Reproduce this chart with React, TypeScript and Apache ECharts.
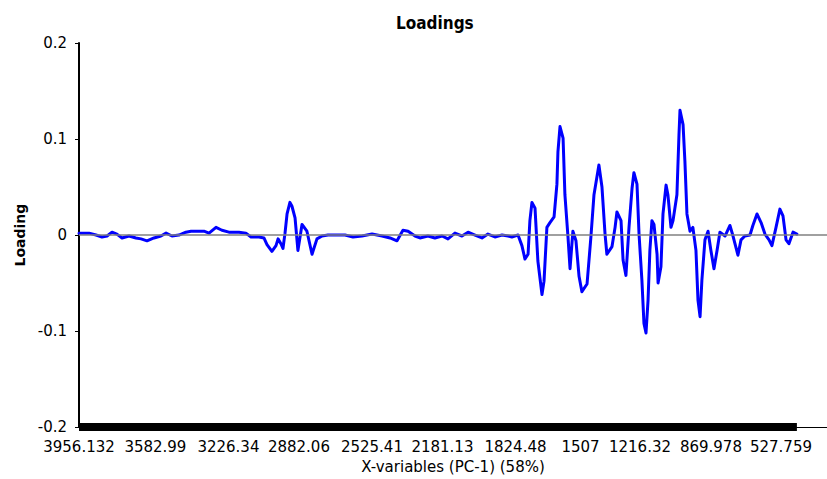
import React, { useEffect, useRef } from "react";
import * as echarts from "echarts";

// Wavenumbers (cm-1) of the sampled points of the PC-1 loading curve
const WAVENUMBERS: number[] = [
  3956.132, 3907, 3873, 3844, 3819, 3795, 3771, 3746, 3712, 3678, 3653, 3624, 3590, 3556, 3531, 3502,
  3468, 3434, 3409, 3380, 3346, 3321, 3287, 3258, 3224, 3175, 3141, 3116, 3077, 3053, 3038, 3014,
  2994, 2984, 2970, 2960, 2950, 2940, 2926, 2916, 2901, 2887, 2867, 2843, 2818, 2794, 2769, 2740,
  2657, 2618, 2574, 2525, 2476, 2437, 2403, 2374, 2349, 2315, 2291, 2252, 2218, 2183, 2154, 2120,
  2086, 2056, 2022, 1988, 1959, 1925, 1890, 1861, 1842, 1812, 1793, 1778, 1763, 1754, 1744, 1729,
  1715, 1695, 1685, 1671, 1656, 1636, 1622, 1617, 1607, 1592, 1583, 1568, 1558, 1544, 1529, 1514,
  1500, 1475, 1456, 1441, 1417, 1402, 1387, 1378, 1353, 1338, 1329, 1309, 1299, 1285, 1270, 1255,
  1246, 1231, 1221, 1207, 1197, 1187, 1177, 1168, 1158, 1148, 1133, 1128, 1114, 1104, 1089, 1080,
  1065, 1055, 1036, 1026, 1021, 1006, 997, 987, 972, 958, 943, 933, 923, 914, 899, 884,
  870, 855, 840, 826, 801, 777, 762, 738, 723, 704, 679, 665, 645, 625, 606, 586,
  572, 552, 533, 518, 503, 489, 469, 450,
];

// PC-1 loading values at those wavenumbers
const LOADINGS: number[] = [
  0.002, 0.002, 0.0, -0.002, -0.001, 0.003, 0.001, -0.003, -0.001, -0.003, -0.004, -0.006, -0.003, -0.001, 0.002, -0.001,
  0.0, 0.003, 0.004, 0.004, 0.004, 0.002, 0.008, 0.005, 0.003, 0.003, 0.002, -0.002, -0.002, -0.003, -0.01, -0.017,
  -0.011, -0.004, -0.009, -0.014, 0.002, 0.022, 0.034, 0.03, 0.018, -0.016, 0.011, 0.004, -0.02, -0.004, -0.001, 0.0,
  0.0, -0.002, -0.001, 0.001, -0.001, -0.003, -0.006, 0.005, 0.004, -0.001, -0.003, -0.001, -0.003, -0.001, -0.004, 0.002,
  -0.001, 0.003, 0.0, -0.003, 0.001, -0.002, 0.0, -0.001, -0.002, 0.0, -0.011, -0.025, -0.02, 0.015, 0.034, 0.028,
  -0.027, -0.062, -0.048, 0.008, 0.013, 0.019, 0.053, 0.087, 0.113, 0.101, 0.042, -0.002, -0.035, 0.004, -0.006, -0.043,
  -0.059, -0.051, -0.002, 0.042, 0.073, 0.05, 0.001, -0.02, -0.012, 0.008, 0.024, 0.015, -0.026, -0.042, 0.008, 0.049,
  0.065, 0.053, 0.001, -0.047, -0.092, -0.102, -0.068, -0.016, 0.015, 0.011, -0.02, -0.05, -0.033, 0.022, 0.052, 0.042,
  0.008, 0.015, 0.042, 0.104, 0.13, 0.115, 0.077, 0.022, 0.004, 0.008, -0.016, -0.068, -0.085, -0.047, -0.005, 0.004,
  -0.016, -0.035, -0.016, 0.003, -0.001, 0.01, -0.001, -0.021, -0.005, -0.001, 0.0, 0.01, 0.022, 0.013, 0.001, -0.005,
  -0.011, 0.008, 0.027, 0.02, -0.005, -0.009, 0.003, 0.001,
];

// Tick labels shown on the x-axis
const X_TICK_LABELS: number[] = [
  3956.132, 3582.99, 3226.34, 2882.06, 2525.41, 2181.13, 1824.48, 1507, 1216.32, 869.978, 527.759,
];
const Y_TICKS: number[] = [-0.2, -0.1, 0, 0.1, 0.2];

const TITLE = "Loadings";
const X_NAME = "X-variables (PC-1) (58%)";
const Y_NAME = "Loading";

export default function App() {
  const ref = useRef<HTMLDivElement>(null);

  useEffect(() => {
    document.body.style.margin = "0";
    if (!ref.current) return;
    const chart = echarts.init(ref.current, null, { renderer: "svg" });
    const font = "DejaVu Sans";
    const condensed = "'DejaVu Sans Condensed', 'DejaVu Sans'";
    const lineData = WAVENUMBERS.map((w, i) => [w, LOADINGS[i]]);
    const yMin = Y_TICKS[0];
    const barData = [
      [WAVENUMBERS[0], yMin],
      [WAVENUMBERS[WAVENUMBERS.length - 1], yMin],
    ];
    chart.setOption({
      animation: false,
      backgroundColor: "#ffffff",
      title: {
        text: TITLE,
        left: 391,
        top: 9,
        textStyle: { fontFamily: condensed, fontSize: 17, fontWeight: "bold", color: "#000" },
      },
      grid: { left: 79, right: 0, top: 43, bottom: 47 },
      xAxis: {
        type: "value",
        inverse: true,
        min: 303,
        max: X_TICK_LABELS[0],
        name: X_NAME,
        nameLocation: "middle",
        nameGap: 30,
        nameTextStyle: { fontFamily: font, fontSize: 15, color: "#000" },
        axisLine: { show: true, onZero: false, lineStyle: { color: "#000", width: 1 } },
        axisTick: { show: false },
        splitLine: { show: false },
        axisLabel: {
          customValues: X_TICK_LABELS,
          formatter: (v: number) => String(v),
          fontFamily: font,
          fontSize: 15,
          color: "#000",
          margin: 12,
          hideOverlap: false,
        },
      },
      yAxis: {
        type: "value",
        min: yMin,
        max: Y_TICKS[Y_TICKS.length - 1],
        interval: 0.1,
        name: Y_NAME,
        nameLocation: "middle",
        nameGap: 52,
        nameRotate: 90,
        nameTextStyle: { fontFamily: font, fontSize: 14, fontWeight: "bold", color: "#000" },
        axisLine: { show: true, lineStyle: { color: "#000", width: 2 } },
        axisTick: { show: true, length: 4, lineStyle: { color: "#000" } },
        splitLine: { show: false },
        axisLabel: {
          fontFamily: font,
          fontSize: 15,
          color: "#000",
          margin: 12,
          formatter: (v: number) => String(Math.round(v * 10) / 10),
        },
      },
      series: [
        {
          name: "ticks",
          type: "line",
          data: barData,
          symbol: "none",
          clip: false,
          silent: true,
          z: 1,
          lineStyle: { color: "#000", width: 8 },
        },
        {
          name: "PC-1",
          type: "line",
          data: lineData,
          symbol: "none",
          clip: false,
          z: 3,
          lineStyle: { color: "#0000ff", width: 3, join: "round", cap: "round" },
          markLine: {
            silent: true,
            symbol: "none",
            label: { show: false },
            z: 5,
            lineStyle: { color: "#808080", width: 1.5, type: "solid" },
            data: [{ yAxis: 0 }],
          },
        },
      ],
    });
    return () => chart.dispose();
  }, []);

  return <div ref={ref} style={{ width: 827, height: 479 }} />;
}
